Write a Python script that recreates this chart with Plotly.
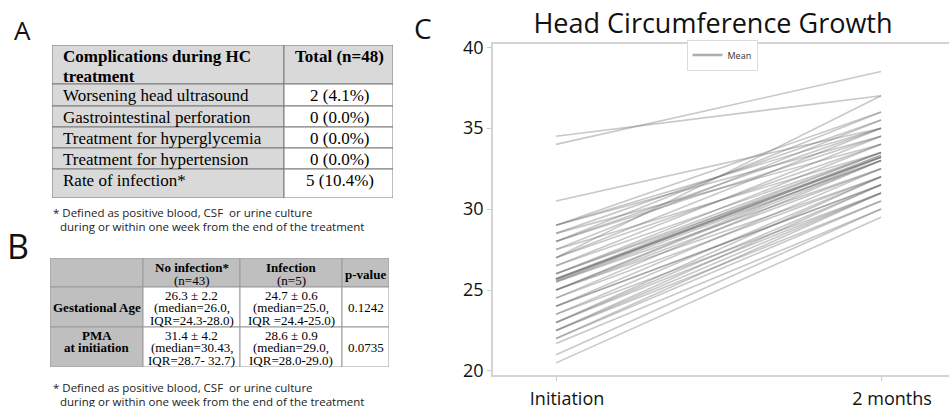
import plotly.graph_objects as go

# ---------------- data ----------------
timepoints = ["Initiation", "2 months"]
hc_initiation = [34.5, 34.0, 30.5, 29.0, 29.0, 29.0, 28.5, 28.5, 28.0, 28.0, 28.0, 27.5,
                 27.5, 27.0, 27.0, 27.0, 26.5, 26.5, 26.0, 26.0, 26.0, 25.7, 25.7, 25.7,
                 25.5, 25.5, 25.0, 25.0, 25.0, 25.0, 24.5, 24.5, 24.0, 24.0, 24.0, 23.5,
                 23.5, 23.0, 23.0, 23.0, 22.5, 22.5, 22.5, 22.0, 22.0, 21.7, 21.0, 20.5]
hc_2months = [37.0, 38.5, 35.0, 36.0, 34.5, 35.0, 35.5, 34.0, 35.0, 36.0, 34.5, 35.5,
              33.5, 37.0, 34.0, 35.0, 34.5, 33.5, 34.0, 33.2, 33.5, 33.2, 33.5, 33.0,
              33.0, 32.5, 33.2, 33.0, 32.0, 32.5, 33.0, 32.0, 31.5, 32.5, 31.5, 32.0,
              31.0, 31.5, 32.0, 31.0, 31.5, 31.0, 30.5, 31.0, 30.5, 30.0, 30.0, 29.5]
hc_mean = [25.6, 33.3]
y_ticks = [20, 25, 30, 35, 40]

tableA_header = ["<b>Complications during HC<br>treatment</b>", "<b>Total (n=48)</b>"]
tableA_labels = ["Worsening head ultrasound", "Gastrointestinal perforation",
                 "Treatment for hyperglycemia", "Treatment for hypertension",
                 "Rate of infection*"]
tableA_values = ["2 (4.1%)", "0 (0.0%)", "0 (0.0%)", "0 (0.0%)", "5 (10.4%)"]

tableB_header = ["", "<b>No infection*<br>(n=43)</b>", "<b>Infection<br>(n=5)</b>", "<b>p-value</b>"]
tableB_labels = ["<b>Gestational Age</b>", "<b>PMA</b><br><b>at initiation</b><br>"]
tableB_noinf = ["26.3 ± 2.2<br>(median=26.0,<br>IQR=24.3-28.0)",
                "31.4 ± 4.2<br>(median=30.43,<br>IQR=28.7- 32.7)"]
tableB_inf = ["24.7 ± 0.6<br>(median=25.0,<br>IQR =24.4-25.0)",
              "28.6 ± 0.9<br>(median=29.0,<br>IQR=28.0-29.0)"]
tableB_p = ["0.1242", "0.0735"]

footnote_1 = "* Defined as positive blood, CSF  or urine culture"
footnote_2 = "during or within one week from the end of the treatment"

W, H = 949, 407
SANS = "Open Sans"
SERIF = "Liberation Serif"

fig = go.Figure()

# ---------------- chart C ----------------
for a, b in zip(hc_initiation, hc_2months):
    fig.add_trace(go.Scatter(x=timepoints, y=[a, b], mode="lines",
                             line=dict(color="rgba(110,110,110,0.38)", width=1.6),
                             showlegend=False, hoverinfo="skip"))
fig.add_trace(go.Scatter(x=timepoints, y=hc_mean, mode="lines", name="Mean",
                         line=dict(color="rgba(105,105,105,0.55)", width=2.6)))

fig.update_layout(
    xaxis=dict(domain=[493 / W, 1.0], type="category", range=[-0.194, 1.209],
               showline=True, linecolor="#d4d4d4", linewidth=1.5, mirror=True,
               ticks="outside", ticklen=4, tickcolor="#cccccc", showgrid=False,
               zeroline=False, automargin=False, ticklabelshift=11,
               ticklabelstandoff=3,
               tickfont=dict(family=SANS, size=18, color="#111")),
    yaxis=dict(domain=[1 - 375 / H, 1 - 44 / H], range=[19.75, 40.2],
               tickvals=y_ticks, showline=True, linecolor="#d4d4d4", linewidth=1.5,
               ticks="outside", ticklen=4, tickcolor="#cccccc", showgrid=False,
               zeroline=False, automargin=False,
               tickfont=dict(family=SANS, size=18, color="#111")),
)

# ---------------- tables on hidden axes (1 unit = 1 px) ----------------
tabA_x = [52, 393]
tabA_y = [45, 198]
tabA_cols = [0, 232, 341]
tabA_rows = [0, 39, 61, 82, 103, 124, 153]
tabB_x = [50, 389]
tabB_y = [258, 367]
tabB_cols = [0, 93, 190, 292, 339]
tabB_rows = [0, 29, 69, 109]

for ax, (xr, yr) in {"2": (tabA_x, tabA_y), "3": (tabB_x, tabB_y)}.items():
    fig.layout["xaxis" + ax] = dict(domain=[xr[0] / W, xr[1] / W], range=[0, xr[1] - xr[0]],
                                    visible=False, anchor="y" + ax, automargin=False,
                                    fixedrange=True)
    fig.layout["yaxis" + ax] = dict(domain=[1 - yr[1] / H, 1 - yr[0] / H],
                                    range=[yr[1] - yr[0], 0], visible=False,
                                    anchor="x" + ax, automargin=False, fixedrange=True)


def add_cell(ax, c0, c1, r0, r1, fill, border):
    fig.add_shape(type="rect", xref="x" + ax, yref="y" + ax, x0=c0, x1=c1, y0=r0, y1=r1,
                  fillcolor=fill, line=dict(color=border, width=1), layer="below")


def add_text(ax, text, x, y, anchor, size):
    fig.add_annotation(text=text, x=x, y=y, xref="x" + ax, yref="y" + ax,
                       xanchor=anchor, yanchor="middle", showarrow=False,
                       font=dict(family=SERIF, size=size, color="black"))


# table A
GA, BA = "#d9d9d9", "#7a7a7a"
columnsA = [[tableA_header[0]] + tableA_labels, [tableA_header[1]] + tableA_values]
for ci, col in enumerate(columnsA):
    c0, c1 = tabA_cols[ci], tabA_cols[ci + 1]
    for ri, txt in enumerate(col):
        r0, r1 = tabA_rows[ri], tabA_rows[ri + 1]
        fill = GA if (ri == 0 or ci == 0) else "white"
        add_cell("2", c0, c1, r0, r1, fill, BA)
        lines = txt.replace("<b>", "").replace("</b>", "").split("<br>")
        bold = txt.startswith("<b>")
        for li, ln in enumerate(lines):
            t = "<b>" + ln + "</b>" if bold else ln
            y = r0 + 11.5 + li * 20
            if ci == 0:
                add_text("2", t, c0 + 9, y, "left", 17)
            else:
                add_text("2", t, (c0 + c1) / 2 + 1, y, "center", 17)

# table B
GB, BB = "#bfbfbf", "#9a9a9a"
columnsB = [[tableB_header[0]] + tableB_labels, [tableB_header[1]] + tableB_noinf,
            [tableB_header[2]] + tableB_inf, [tableB_header[3]] + tableB_p]
for ci, col in enumerate(columnsB):
    c0, c1 = tabB_cols[ci], tabB_cols[ci + 1]
    for ri, txt in enumerate(col):
        r0, r1 = tabB_rows[ri], tabB_rows[ri + 1]
        fill = GB if (ri == 0 or ci == 0) else "white"
        add_cell("3", c0, c1, r0, r1, fill, BB)
        lines = txt.split("<br>")
        n = len(lines)
        mid = (r0 + r1) / 2 + (1.5 if ri == 0 else 0.5)
        for li, ln in enumerate(lines):
            if ln:
                y = mid + (li - (n - 1) / 2) * 12.5
                add_text("3", ln, (c0 + c1) / 2, y, "center", 13)

fig.update_layout(
    width=W, height=H, margin=dict(l=0, r=0, t=0, b=0),
    paper_bgcolor="white", plot_bgcolor="white",
    title=dict(text="Head Circumference Growth", x=713 / W, xanchor="center",
               y=1 - 24 / H, yanchor="middle",
               font=dict(family=SANS, size=27, color="#111")),
    showlegend=True,
    legend=dict(x=722 / W, y=1 - 55 / H, xanchor="center", yanchor="middle",
                bgcolor="white", bordercolor="#dcdcdc", borderwidth=1,
                font=dict(family=SANS, size=9, color="#333")),
)

ann = [
    dict(text="A", x=22 / W, y=1 - 30 / H, size=26),
    dict(text="B", x=18 / W, y=1 - 246 / H, size=34),
    dict(text="C", x=423 / W, y=1 - 28 / H, size=28),
]
for a in ann:
    fig.add_annotation(text=a["text"], x=a["x"], y=a["y"], xref="paper", yref="paper",
                       xanchor="center", yanchor="middle", showarrow=False,
                       font=dict(family=SANS, size=a["size"], color="#111"))

for (x0, y0, txt) in [(51, 212, footnote_1), (58, 226, footnote_2),
                      (51, 387, footnote_1), (58, 401, footnote_2)]:
    fig.add_annotation(text=txt, x=x0 / W, y=1 - y0 / H, xref="paper", yref="paper",
                       xanchor="left", yanchor="middle", showarrow=False,
                       font=dict(family=SANS, size=11.5, color="#222"))

fig.write_html("out.html", config={"displayModeBar": False},
               post_script="document.body.style.margin='0';")
